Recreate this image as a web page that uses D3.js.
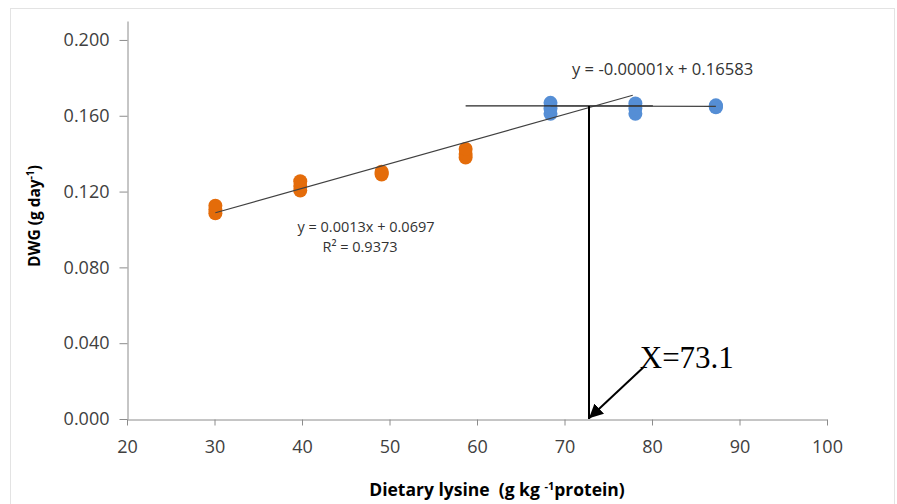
<!DOCTYPE html>
<html>
<head>
<meta charset="utf-8">
<script src="https://cdnjs.cloudflare.com/ajax/libs/d3/7.8.5/d3.min.js"></script>
<style>
  body { margin: 0; background: #fff; }
  .axis path, .axis line { stroke: #8c8c8c; }
  .axis text { font-family: "Open Sans", sans-serif; font-size: 18px; fill: #404040; }
  .eq { font-family: "Open Sans", sans-serif; fill: #333; }
  .title { font-family: "Open Sans", sans-serif; font-weight: bold; fill: #000; }
</style>
</head>
<body>
<div id="chart-area"></div>
<script>
/* Data */
const lysineLow  = [30.1, 30.1, 30.1, 39.8, 39.8, 39.8, 49.1, 49.1, 49.1, 58.7, 58.7, 58.7];
const dwgLow     = [0.1085, 0.1105, 0.1125, 0.1205, 0.1230, 0.1255, 0.1290, 0.1298, 0.1305, 0.1380, 0.1398, 0.1425];
const lysineHigh = [68.4, 68.4, 68.4, 78.1, 78.1, 78.1, 87.3, 87.3, 87.3];
const dwgHigh    = [0.1610, 0.1638, 0.1668, 0.1610, 0.1638, 0.1665, 0.1645, 0.1650, 0.1655];

const xTicks = [20, 30, 40, 50, 60, 70, 80, 90, 100];
const yTicks = [0, 0.04, 0.08, 0.12, 0.16, 0.2];

// trend lines: [slope, intercept, xStart, xEnd]
const fitLow  = [0.0013, 0.0697, 30.1, 77.8];
const fitHigh = [-0.00001, 0.16583, 68.4, 87.3];
const plateau = [0.1652, 58.7, 80.1];   // hand drawn level line
const breakX  = 72.8;                   // where the vertical is drawn
const breakLabel = 'X=73.1';

/* SVG */
const W = 897, H = 504;
const svg = d3.select('#chart-area').append('svg')
    .attr('width', W).attr('height', H);

svg.append('rect')
    .attr('x', 10.5).attr('y', 8.5)
    .attr('width', 884).attr('height', 510)
    .attr('fill', 'none').attr('stroke', '#e3e3e3');

const x = d3.scaleLinear().domain([20, 100]).range([127, 827]);
const y = d3.scaleLinear().domain([0, 0.21]).range([419, 21]);

/* Axis */
svg.append('g')
    .attr('class', 'axis')
    .attr('transform', 'translate(0,419.5)')
    .call(d3.axisBottom(x).tickValues(xTicks).tickSize(6).tickPadding(15).tickSizeOuter(0));

svg.append('g')
    .attr('class', 'axis')
    .attr('transform', 'translate(127.5,0)')
    .call(d3.axisLeft(y).tickValues(yTicks).tickSize(8).tickPadding(10)
        .tickSizeOuter(0).tickFormat(d3.format('.3f')));

/* Labels */
const yl = svg.append('text')
    .attr('class', 'title')
    .style('font-size', '15.5px')
    .attr('transform', 'translate(40,216) rotate(-90)')
    .attr('text-anchor', 'middle');
yl.append('tspan').text('DWG (g day');
yl.append('tspan').style('font-size', '10px').attr('dy', -6).text('-1');
yl.append('tspan').attr('dy', 6).text(')');

const xl = svg.append('text')
    .attr('class', 'title')
    .style('font-size', '17.5px')
    .attr('x', 497).attr('y', 496)
    .attr('text-anchor', 'middle')
    .attr('xml:space', 'preserve');
xl.append('tspan').text('Dietary lysine  (g kg ');
xl.append('tspan').style('font-size', '11px').attr('dy', -6).text('-1');
xl.append('tspan').attr('dy', 6).text('protein)');

/* Points */
svg.append('g').selectAll('circle')
    .data(d3.zip(lysineLow, dwgLow))
    .enter().append('circle')
        .attr('cx', d => x(d[0]))
        .attr('cy', d => y(d[1]))
        .attr('r', 7)
        .attr('fill', '#e46c0a');

svg.append('g').selectAll('circle')
    .data(d3.zip(lysineHigh, dwgHigh))
    .enter().append('circle')
        .attr('cx', d => x(d[0]))
        .attr('cy', d => y(d[1]))
        .attr('r', 7)
        .attr('fill', '#558ed5');

/* Trend lines */
const line = d3.line().x(d => x(d[0])).y(d => y(d[1]));
const fitPts = f => [[f[2], f[0] * f[2] + f[1]], [f[3], f[0] * f[3] + f[1]]];

svg.append('path')
    .attr('d', line(fitPts(fitLow)))
    .attr('stroke', '#404040').attr('stroke-width', 1.2).attr('fill', 'none');

svg.append('path')
    .attr('d', line([[plateau[1], plateau[0]], [plateau[2], plateau[0]]]))
    .attr('stroke', '#262626').attr('stroke-width', 1.3).attr('fill', 'none');

svg.append('path')
    .attr('d', line(fitPts(fitHigh)))
    .attr('stroke', '#404040').attr('stroke-width', 1.2).attr('fill', 'none');

/* Break point */
svg.append('path')
    .attr('d', line([[breakX, fitHigh[0] * breakX + fitHigh[1]], [breakX, 0]]))
    .attr('stroke', '#000').attr('stroke-width', 2).attr('fill', 'none');

svg.append('defs').append('marker')
    .attr('id', 'arrow')
    .attr('viewBox', '0 0 10 10')
    .attr('refX', 10).attr('refY', 5)
    .attr('markerWidth', 7).attr('markerHeight', 7)
    .attr('markerUnits', 'strokeWidth')
    .attr('orient', 'auto')
  .append('path')
    .attr('d', 'M0,0 L10,5 L0,10 z')
    .attr('fill', '#000');

svg.append('path')
    .attr('d', line([[79.0, 0.0272], [breakX, 0.0004]]))
    .attr('stroke', '#000').attr('stroke-width', 2).attr('fill', 'none')
    .attr('marker-end', 'url(#arrow)');

svg.append('text')
    .attr('x', x(78.6)).attr('y', y(0.0269))
    .attr('font-family', '"Liberation Serif", "Times New Roman", serif')
    .attr('font-size', '31px').attr('fill', '#000')
    .text(breakLabel);

/* Equations */
svg.append('text').attr('class', 'eq')
    .style('font-size', '14.5px')
    .attr('x', 366).attr('y', 232).attr('text-anchor', 'middle')
    .text('y = 0.0013x + 0.0697');

svg.append('text').attr('class', 'eq')
    .style('font-size', '14.5px')
    .attr('x', 360).attr('y', 252).attr('text-anchor', 'middle')
    .text('R² = 0.9373');

svg.append('text').attr('class', 'eq')
    .style('font-size', '16.6px')
    .attr('x', 572).attr('y', 75)
    .text('y = -0.00001x + 0.16583');
</script>
</body>
</html>
